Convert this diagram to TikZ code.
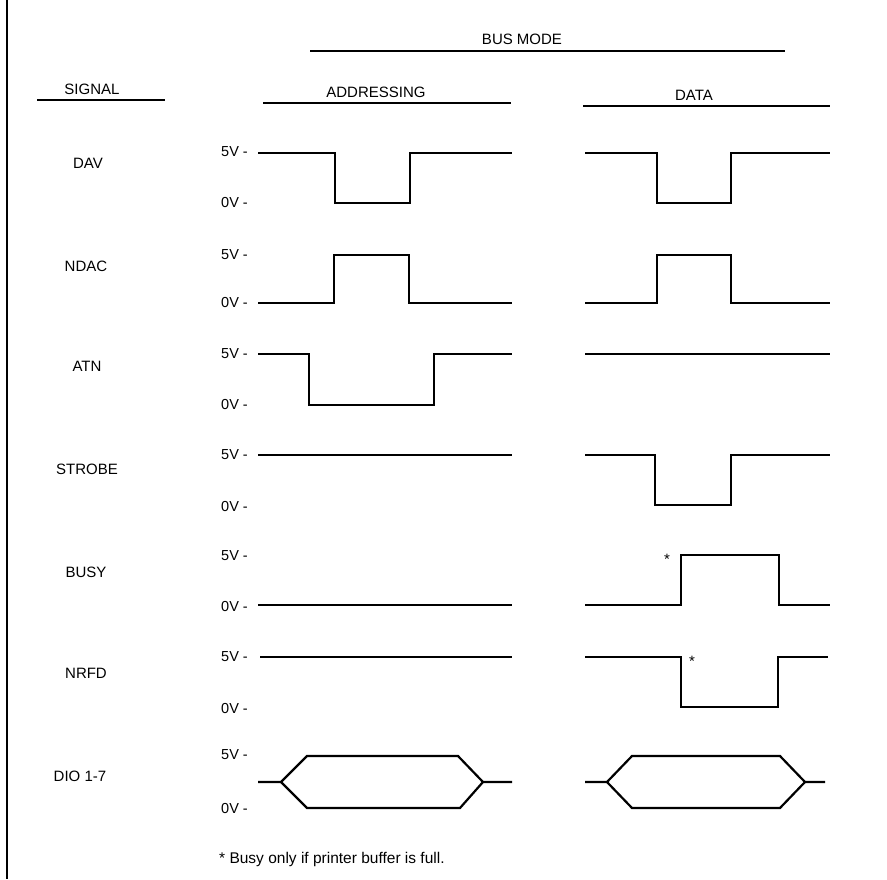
\documentclass[tikz,border=0pt]{standalone}
\usepackage{fontspec}
\setmainfont{Liberation Sans}
\begin{document}
\begin{tikzpicture}[x=1pt,y=-1pt,
  lbl/.style={font=\fontsize{15}{17}\selectfont, inner sep=0pt},
  volt/.style={font=\fontsize{14.5}{16}\selectfont, inner sep=0pt, anchor=east},
  head/.style={font=\fontsize{15}{17}\selectfont, inner sep=0pt},
  rule/.style={line width=2.5pt},
  wave/.style={line width=2.2pt, line join=miter}]
\useasboundingbox (0,0) rectangle (887,879);
\draw[line width=2.5pt] (7,0) -- (7,879);
% headings
\node[head] (busmode) at (522,39) {BUS MODE};
\draw[rule] (310,51) -- (785,51);
\node[head] (signal) at (92,89) {SIGNAL};
\draw[rule] (37,100) -- (165,100);
\node[head] (addr) at (376,92) {ADDRESSING};
\draw[rule] (263,103) -- (511,103);
\node[head] (data) at (694,95) {DATA};
\draw[rule] (583,106) -- (830,106);
% signal labels
\node[lbl] (dav) at (88,163) {DAV};
\node[lbl] (ndac) at (86,266) {NDAC};
\node[lbl] (atn) at (87,366) {ATN};
\node[lbl] (strobe) at (87,469) {STROBE};
\node[lbl] (busy) at (86,572) {BUSY};
\node[lbl] (nrfd) at (86,673) {NRFD};
\node[lbl] (dio) at (80,776) {DIO 1-7};
% voltage labels
\foreach \hi/\lo in {152/203, 255/303, 354/405, 455/507, 556/606, 657/708, 755/808}{
  \node[volt] at (248,\hi) {5V -};
  \node[volt] at (248,\lo) {0V -};
}
% DAV
\draw[wave] (258,153) -- (335,153) -- (335,203) -- (410,203) -- (410,153) -- (512,153);
\draw[wave] (585,153) -- (657,153) -- (657,203) -- (731,203) -- (731,153) -- (830,153);
% NDAC
\draw[wave] (258,303) -- (334,303) -- (334,255) -- (409,255) -- (409,303) -- (512,303);
\draw[wave] (585,303) -- (657,303) -- (657,255) -- (731,255) -- (731,303) -- (830,303);
% ATN
\draw[wave] (258,354) -- (309,354) -- (309,405) -- (434,405) -- (434,354) -- (512,354);
\draw[wave] (585,354) -- (830,354);
% STROBE
\draw[wave] (258,455) -- (512,455);
\draw[wave] (585,455) -- (655,455) -- (655,505) -- (731,505) -- (731,455) -- (830,455);
% BUSY
\draw[wave] (258,605) -- (512,605);
\draw[wave] (585,605) -- (681,605) -- (681,555) -- (779,555) -- (779,605) -- (830,605);
\node[lbl] (star1) at (667,559) {*};
% NRFD
\draw[wave] (260,657) -- (512,657);
\draw[wave] (585,657) -- (681,657) -- (681,707) -- (778,707) -- (778,657) -- (828,657);
\node[lbl] (star2) at (692,661) {*};
% DIO
\draw[wave] (258,782) -- (281,782) -- (307,756) -- (458,756) -- (483,782) -- (512,782);
\draw[wave] (281,782) -- (307,808) -- (460,808) -- (483,782);
\draw[wave] (585,782) -- (607,782) -- (632,756) -- (780,756) -- (805,782) -- (825,782);
\draw[wave] (607,782) -- (632,808) -- (780,808) -- (805,782);
% footnote
\node[font=\fontsize{15.5}{17}\selectfont, inner sep=0pt, anchor=west] (note) at (219,859) {* Busy only if printer buffer is full.};
\end{tikzpicture}
\end{document}
